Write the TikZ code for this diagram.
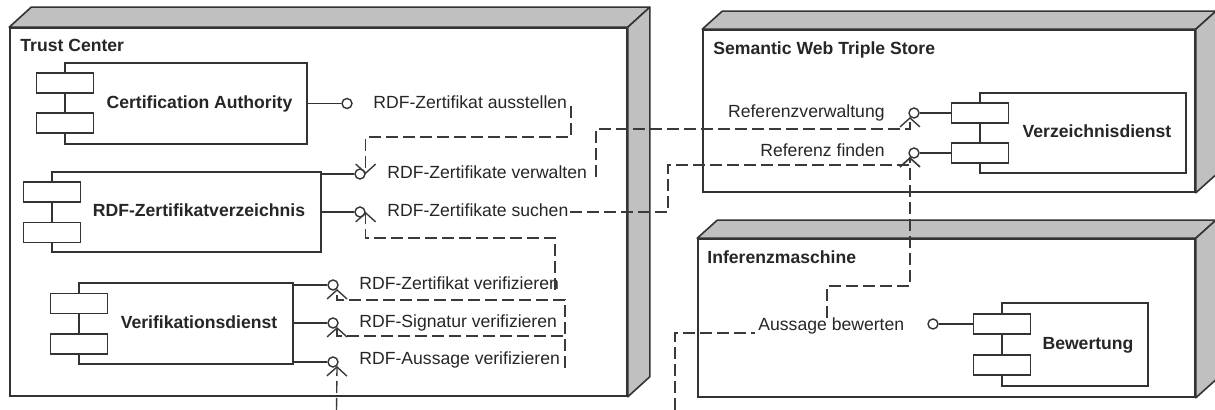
\documentclass[tikz,border=0pt]{standalone}
\usepackage{fontspec}
\setmainfont{Liberation Sans}
\usetikzlibrary{arrows.meta,calc}
\definecolor{facegray}{HTML}{C0C0C0}
\definecolor{ln}{HTML}{333333}
\definecolor{dl}{HTML}{3A3A3A}
\begin{document}
\begin{tikzpicture}[x=0.5pt,y=-0.5pt,
  lbl/.style={font=\fontsize{8.8}{10}\selectfont, text=black!85, inner sep=0pt, text height=6.4pt, text depth=1.8pt},
  blbl/.style={lbl, font=\fontsize{8.8}{10}\selectfont\bfseries},
  ttl/.style={blbl, anchor=west},
  dev/.style={draw=ln, fill=white, line width=0.8pt, inner sep=0pt},
  comp/.style={draw=ln, fill=white, line width=0.8pt, inner sep=0pt},
  port/.style={draw=ln, fill=white, line width=0.8pt, minimum width=28.5pt, minimum height=10pt, inner sep=0pt},
  ball/.style={circle, draw=ln, fill=white, line width=0.7pt, minimum size=5pt, inner sep=0pt},
  wire/.style={draw=ln, line width=0.8pt},
  depn/.style={draw=dl, line width=0.7pt, dash pattern=on 6pt off 2.5pt},
  dep/.style={depn, -{Straight Barb[length=4.5pt,width=10pt]}},
  face/.style={fill=facegray, draw=ln, line width=0.8pt, line join=round}
]
\useasboundingbox (0,0) rectangle (1215,410);

% ---------- devices ----------
\node[dev, minimum width=308.5pt, minimum height=184pt] (tc) at (318.5,212) {};
\draw[face] (tc.north west) -- ++(22,-20) -- ($(tc.north east)+(22,-20)$) -- (tc.north east) -- cycle;
\draw[face] (tc.north east) -- ++(22,-20) -- ($(tc.south east)+(22,-20)$) -- (tc.south east) -- cycle;
\node[ttl] (tcT) at (20,47) {Trust Center};

\node[dev, minimum width=246pt, minimum height=81pt] (sw) at (949,111) {};
\draw[face] (sw.north west) -- ++(20,-18) -- ($(sw.north east)+(20,-18)$) -- (sw.north east) -- cycle;
\draw[face] (sw.north east) -- ++(20,-18) -- ($(sw.south east)+(20,-18)$) -- (sw.south east) -- cycle;
\node[ttl] (swT) at (713,50) {Semantic Web Triple Store};

\node[dev, minimum width=248.5pt, minimum height=79pt] (im) at (946.5,318) {};
\draw[face] (im.north west) -- ++(20,-18) -- ($(im.north east)+(20,-18)$) -- (im.north east) -- cycle;
\draw[face] (im.north east) -- ++(20,-18) -- ($(im.south east)+(20,-18)$) -- (im.south east) -- cycle;
\node[ttl] (imT) at (707,259) {Inferenzmaschine};

% ---------- components ----------
\node[comp, minimum width=121pt, minimum height=40.5pt] (ca) at (186,103.5) {};
\node[port] (ca1) at (65,83) {};
\node[port] (ca2) at (65,123) {};
\node[blbl] (caL) at (199.5,103.5) {Certification Authority};

\node[comp, minimum width=134.5pt, minimum height=40pt] (rz) at (186.5,212) {};
\node[port] (rz1) at (52,192) {};
\node[port] (rz2) at (52,232.5) {};
\node[blbl] (rzL) at (199,212) {RDF-Zertifikatverzeichnis};

\node[comp, minimum width=107pt, minimum height=40.5pt] (vd) at (186,323.5) {};
\node[port] (vd1) at (79,303.5) {};
\node[port] (vd2) at (79,344) {};
\node[blbl] (vdL) at (199,323.5) {Verifikationsdienst};

\node[comp, minimum width=103pt, minimum height=40pt] (vz) at (1083,133) {};
\node[port] (vz1) at (980,113) {};
\node[port] (vz2) at (980,153) {};
\node[blbl] (vzL) at (1097,133) {Verzeichnisdienst};

\node[comp, minimum width=73pt, minimum height=41.5pt] (bw) at (1075,344.5) {};
\node[port] (bw1) at (1002,324) {};
\node[port] (bw2) at (1002,365) {};
\node[blbl] (bwL) at (1088,344.5) {Bewertung};

% ---------- provided interfaces (balls) ----------
\node[ball] (c1) at (347,103.5) {};
\node[ball] (c2) at (360,174) {};
\node[ball] (c3) at (360,212) {};
\node[ball] (v1) at (333,285) {};
\node[ball] (v2) at (333,323) {};
\node[ball] (v3) at (333,362) {};
\node[ball] (r1) at (914,113) {};
\node[ball] (r2) at (914,153) {};
\node[ball] (b1) at (933,324) {};

\draw[wire] (ca.east |- c1) -- (c1);
\draw[wire] (rz.east |- c2) -- (c2);
\draw[wire] (rz.east |- c3) -- (c3);
\draw[wire] (vd.east |- v1) -- (v1);
\draw[wire] (vd.east |- v2) -- (v2);
\draw[wire] (vd.east |- v3) -- (v3);
\draw[wire] (vz1.west) -- (r1);
\draw[wire] (vz2.west) -- (r2);
\draw[wire] (bw1.west) -- (b1);

% ---------- interface labels ----------
\node[lbl, anchor=west] (t1) at (373,103.5) {RDF-Zertifikat ausstellen};
\node[lbl, anchor=west] (t2) at (387,174) {RDF-Zertifikate verwalten};
\node[lbl, anchor=west] (t3) at (387,212) {RDF-Zertifikate suchen};
\node[lbl, anchor=west] (t4) at (359,285) {RDF-Zertifikat verifizieren};
\node[lbl, anchor=west] (t5) at (359,323) {RDF-Signatur verifizieren};
\node[lbl, anchor=west] (t6) at (359,360) {RDF-Aussage verifizieren};
\node[lbl, anchor=east] (t7) at (885,113) {Referenzverwaltung};
\node[lbl, anchor=east] (t8) at (885,152) {Referenz finden};
\node[lbl, anchor=west] (t9) at (758,326) {Aussage bewerten};

% ---------- dependencies ----------
\coordinate (pA) at (571,106);
\coordinate (pB) at (596,177);
\coordinate (pC) at (570,212);
\coordinate (pD) at (555,290);
\coordinate (pE) at (565,368);
\coordinate (pG) at (336.5,410);
\coordinate (pH) at (675,410);
\coordinate (pHe) at (755,333);
\coordinate (pI) at (827,318);

\draw[dep] (pA) -- (571,137) -| (c2.east);
\draw[dep] (pB) -- (596,129) -| (r1.south west);
\draw[dep] (pC) -- (668,212) -- (668,165) -| (r2.south west);
\draw[dep] (pD) -- (555,238) -| (c3.east);
\draw[dep] (pE) -- (565,300) -| (v1.south east);
\draw[dep] (pE) -- (565,336) -| (v2.south east);
\draw[dep] (pG) -- (v3.south east);
\draw[depn] (pH) -- (675,333) -- (pHe);
\draw[dep] (pI) -- (827,286) -| (r2.south west);
\end{tikzpicture}
\end{document}
